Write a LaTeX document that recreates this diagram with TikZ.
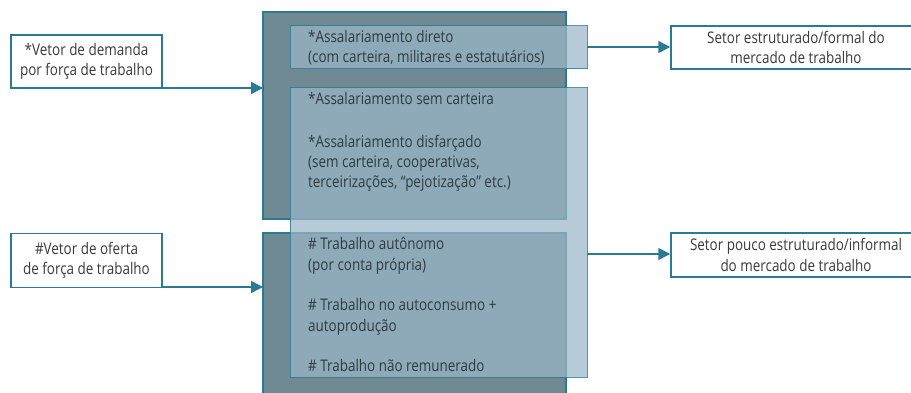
\documentclass[tikz,border=0pt]{standalone}
\usepackage{fontspec}
\setmainfont[FakeStretch=0.84]{Open Sans}
\usetikzlibrary{arrows.meta}
\definecolor{teal1}{HTML}{2B7A94}
\definecolor{darkfill}{HTML}{708A94}
\definecolor{lightfill}{HTML}{9AB7C7}
\definecolor{txt}{HTML}{3A3A3A}
\definecolor{txtin}{HTML}{2E3B42}
\tikzset{
  darkrect/.style={draw=teal1, line width=1.5pt, fill=darkfill},
  lightrect/.style={draw=teal1, line width=1pt, fill=lightfill, fill opacity=0.72, draw opacity=0.8},
  sidebox/.style={draw=teal1, line width=1.5pt, fill=white, align=center, text=txt,
     font=\fontsize{16}{20.4}\selectfont, inner sep=0pt},
  intext/.style={align=left, text=txtin, anchor=base west, inner sep=0pt,
     font=\fontsize{16}{20.4}\selectfont},
  conn/.style={draw=teal1, line width=1.5pt, -{Triangle[length=12pt,width=12pt]}},
}
\begin{document}
\begin{tikzpicture}[x=1pt,y=-1pt]
\useasboundingbox (0,0) rectangle (911,393);
\clip (0,0) rectangle (911,393);
% dark rectangles
\path[darkrect] (263,12) rectangle (566,219);
\path[darkrect] (263,233) rectangle (566,400);
\coordinate (demIn) at (263,88);
\coordinate (ofeIn) at (263,287);
% light boxes
\path[lightrect] (290,26) rectangle (587,69);
\path[lightrect] (290,88) rectangle (587,377);
\coordinate (formOut) at (587,47);
\coordinate (infOut) at (587,254);
% inner texts (anchored at the baseline of the last line)
\node[intext] (t1) at (308,63) {*Assalariamento direto\\(com carteira, militares e estatutários)};
\node[intext] (t2) at (308,105) {*Assalariamento sem carteira};
\node[intext] (t3) at (308,188) {*Assalariamento disfarçado\\(sem carteira, cooperativas,\\terceirizações, “pejotização” etc.)};
\node[intext] (t4) at (308,270) {\# Trabalho autônomo\\(por conta própria)};
\node[intext] (t5) at (308,331) {\# Trabalho no autoconsumo +\\autoprodução};
\node[intext] (t6) at (308,371) {\# Trabalho não remunerado};
% side boxes
\node[sidebox, minimum width=151pt, minimum height=53pt] (dem) at (86.5,61.5) {*Vetor de demanda\\por força de trabalho};
\node[sidebox, minimum width=151pt, minimum height=54pt] (ofe) at (86.5,260.5) {\#Vetor de oferta\\de força de trabalho};
\node[sidebox, minimum width=250pt, minimum height=43pt] (form) at (796,47.5) {Setor estruturado/formal do\\mercado de trabalho};
\node[sidebox, minimum width=250pt, minimum height=44pt] (inf) at (796,255) {Setor pouco estruturado/informal\\do mercado de trabalho};
% connectors
\draw[conn] (dem.east |- demIn) -- (demIn);
\draw[conn] (ofe.east |- ofeIn) -- (ofeIn);
\draw[conn] (formOut) -- (form.west |- formOut);
\draw[conn] (infOut) -- (inf.west |- infOut);
\end{tikzpicture}
\end{document}
